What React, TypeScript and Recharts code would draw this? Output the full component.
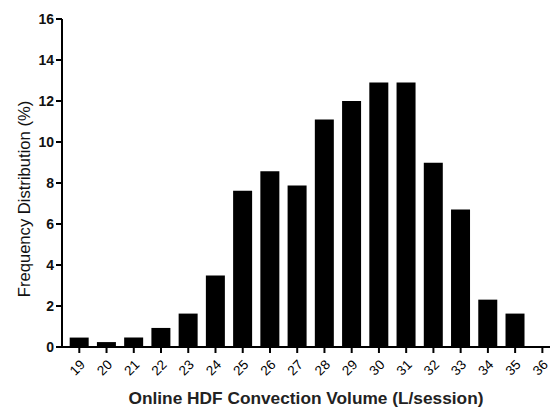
import React from 'react';
import { BarChart, Bar, XAxis, YAxis } from 'recharts';

const volumes = [19, 20, 21, 22, 23, 24, 25, 26, 27, 28, 29, 30, 31, 32, 33, 34, 35, 36];
const frequencies = [0.46, 0.24, 0.46, 0.93, 1.63, 3.49, 7.62, 8.57, 7.88, 11.1, 12.0, 12.9, 12.9, 8.99, 6.71, 2.31, 1.63, 0];
const yTicks = [0, 2, 4, 6, 8, 10, 12, 14, 16];

const data = volumes.map((v, i) => ({ volume: v, freq: frequencies[i] }));

const FONT = '"Liberation Sans", Arial, Helvetica, sans-serif';

const XTick = (props: any) => {
  const { x, y, payload } = props;
  return (
    <g transform={`translate(${x + 3},${y + 7})`}>
      <text
        x={0}
        y={0}
        dy={5}
        textAnchor="end"
        transform="rotate(-45)"
        fontFamily={FONT}
        fontSize={13.5}
        fill="#000"
      >
        {payload.value}
      </text>
    </g>
  );
};

const YTick = (props: any) => {
  const { x, y, payload } = props;
  return (
    <text x={x} y={y} dy={5} textAnchor="end" fontFamily={FONT} fontSize={14} fontWeight="bold" fill="#111">
      {payload.value}
    </text>
  );
};

export default function App() {
  return (
    <div style={{ position: 'absolute', left: 0, top: 0, width: 553, height: 407, background: '#fff' }}>
      <BarChart
        width={553}
        height={407}
        data={data}
        margin={{ top: 19, right: 3, bottom: 0, left: 0 }}
        barSize={19}
      >
        <XAxis
          dataKey="volume"
          type="number"
          domain={[18.365, 36.28]}
          ticks={volumes}
          allowDataOverflow
          height={60}
          stroke="#000"
          strokeWidth={2}
          tickSize={6}
          tickLine={{ stroke: '#000', strokeWidth: 2 }}
          tick={<XTick />}
          label={{
            value: 'Online HDF Convection Volume (L/session)',
            position: 'insideBottom',
            offset: 3,
            style: { fontFamily: FONT, fontSize: 17.3, fontWeight: 'bold', fill: '#222' },
          }}
        />
        <YAxis
          domain={[0, 16]}
          ticks={yTicks}
          width={62}
          stroke="#000"
          strokeWidth={2}
          tickSize={6}
          tickLine={{ stroke: '#000', strokeWidth: 2 }}
          tick={<YTick />}
          label={{
            value: 'Frequency Distribution (%)',
            angle: -90,
            position: 'insideLeft',
            offset: 24,
            dy: 16,
            style: { fontFamily: FONT, fontSize: 16.6, fill: '#111', textAnchor: 'middle' },
          }}
        />
        <Bar dataKey="freq" fill="#000" isAnimationActive={false} />
      </BarChart>
    </div>
  );
}
